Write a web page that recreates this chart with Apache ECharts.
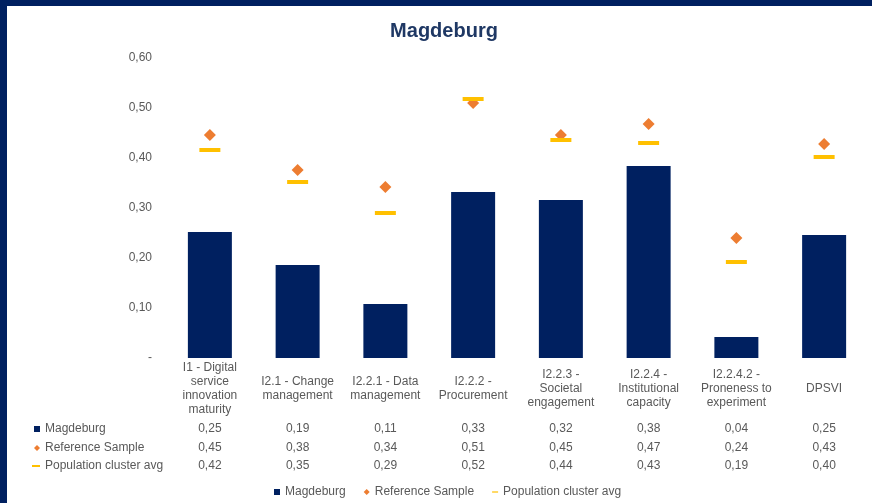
<!DOCTYPE html>
<html>
<head>
<meta charset="utf-8">
<script src="https://cdn.jsdelivr.net/npm/echarts@6/dist/echarts.min.js"></script>
<style>
  html, body { margin: 0; padding: 0; background: #002060; }
  #main { position: absolute; left: 7px; top: 6px; width: 865px; height: 497px; background: #fff; }
</style>
</head>
<body>
<div id="main"></div>
<script>
/* 数据 */
var categories = [
  'I1 - Digital\nservice\ninnovation\nmaturity',
  'I2.1 - Change\nmanagement',
  'I2.2.1 - Data\nmanagement',
  'I2.2.2 -\nProcurement',
  'I2.2.3 -\nSocietal\nengagement',
  'I2.2.4 -\nInstitutional\ncapacity',
  'I2.2.4.2 -\nProneness to\nexperiment',
  'DPSVI'
];
var magdeburg = [0.252, 0.186, 0.108, 0.332, 0.316, 0.384, 0.042, 0.246];
var referenceSample = [0.446, 0.376, 0.342, 0.51, 0.446, 0.468, 0.24, 0.428];
var populationAvg = [0.416, 0.352, 0.29, 0.518, 0.436, 0.43, 0.192, 0.402];
var yTicks = [0, 0.1, 0.2, 0.3, 0.4, 0.5, 0.6];

var gray = '#595959';
var font = 'Liberation Sans, Arial, sans-serif';
var dashIcon = 'path://M0,0h10v2H0z';

function fmt(v) {
  return v.toFixed(2).replace('.', ',');
}

// 表格行：用额外的类目轴显示数值
function tableAxis(values, margin) {
  return {
    type: 'category',
    gridIndex: 0,
    position: 'bottom',
    data: values.map(fmt),
    axisLine: {show: false},
    axisTick: {show: false},
    axisLabel: {
      margin: margin,
      verticalAlign: 'middle',
      color: gray,
      fontSize: 12,
      fontFamily: font,
      interval: 0
    }
  };
}

function rowLegend(name, left, top, icon, w, h) {
  return {
    data: [name],
    left: left,
    top: top,
    orient: 'horizontal',
    padding: 0,
    icon: icon,
    itemWidth: w,
    itemHeight: h,
    selectedMode: false,
    textStyle: {color: gray, fontSize: 12, fontFamily: font}
  };
}

var chart = echarts.init(document.getElementById('main'));

var option = {
  animation: false,
  title: {
    text: 'Magdeburg',
    left: 437,
    top: 15,
    textAlign: 'center',
    padding: 0,
    textStyle: {color: '#1F3864', fontSize: 20, fontWeight: 'bold', fontFamily: font}
  },
  legend: [
    rowLegend('Magdeburg', 27, 417, 'rect', 6, 6),
    rowLegend('Reference Sample', 27, 436, 'diamond', 6, 6),
    rowLegend('Population cluster avg', 25, 454, 'rect', 8, 2),
    {
      data: [
        {name: 'Magdeburg', icon: 'rect'},
        {name: 'Reference Sample', icon: 'diamond'},
        {name: 'Population cluster avg', icon: dashIcon}
      ],
      left: 267,
      top: 480,
      padding: 0,
      itemWidth: 6,
      itemHeight: 6,
      itemGap: 18,
      selectedMode: false,
      textStyle: {color: gray, fontSize: 12, fontFamily: font}
    }
  ],
  grid: {left: 159, right: 4, top: 52, bottom: 145},
  xAxis: [
    {
      type: 'category',
      data: categories,
      axisLine: {show: false},
      axisTick: {show: false},
      axisLabel: {
        interval: 0,
        margin: 31,
        verticalAlign: 'middle',
        lineHeight: 14,
        color: gray,
        fontSize: 12,
        fontFamily: font
      }
    },
    tableAxis(magdeburg, 71),
    tableAxis(referenceSample, 90),
    tableAxis(populationAvg, 108)
  ],
  yAxis: {
    type: 'value',
    min: yTicks[0],
    max: yTicks[yTicks.length - 1],
    interval: 0.1,
    axisLine: {show: false},
    axisTick: {show: false},
    splitLine: {show: false},
    axisLabel: {
      margin: 14,
      color: gray,
      fontSize: 12,
      fontFamily: font,
      formatter: function(v) {
        return v === 0 ? '-' : fmt(v);
      }
    }
  },
  series: [
    {
      name: 'Magdeburg',
      type: 'bar',
      barWidth: 44,
      itemStyle: {color: '#002060'},
      data: magdeburg
    },
    {
      name: 'Reference Sample',
      type: 'scatter',
      symbol: 'diamond',
      symbolSize: 12,
      itemStyle: {color: '#ED7D31', opacity: 1},
      data: referenceSample
    },
    {
      name: 'Population cluster avg',
      type: 'scatter',
      symbol: 'rect',
      symbolSize: [21, 4],
      itemStyle: {color: '#FFC000', opacity: 1},
      data: populationAvg
    }
  ]
};

chart.setOption(option);
</script>
</body>
</html>
